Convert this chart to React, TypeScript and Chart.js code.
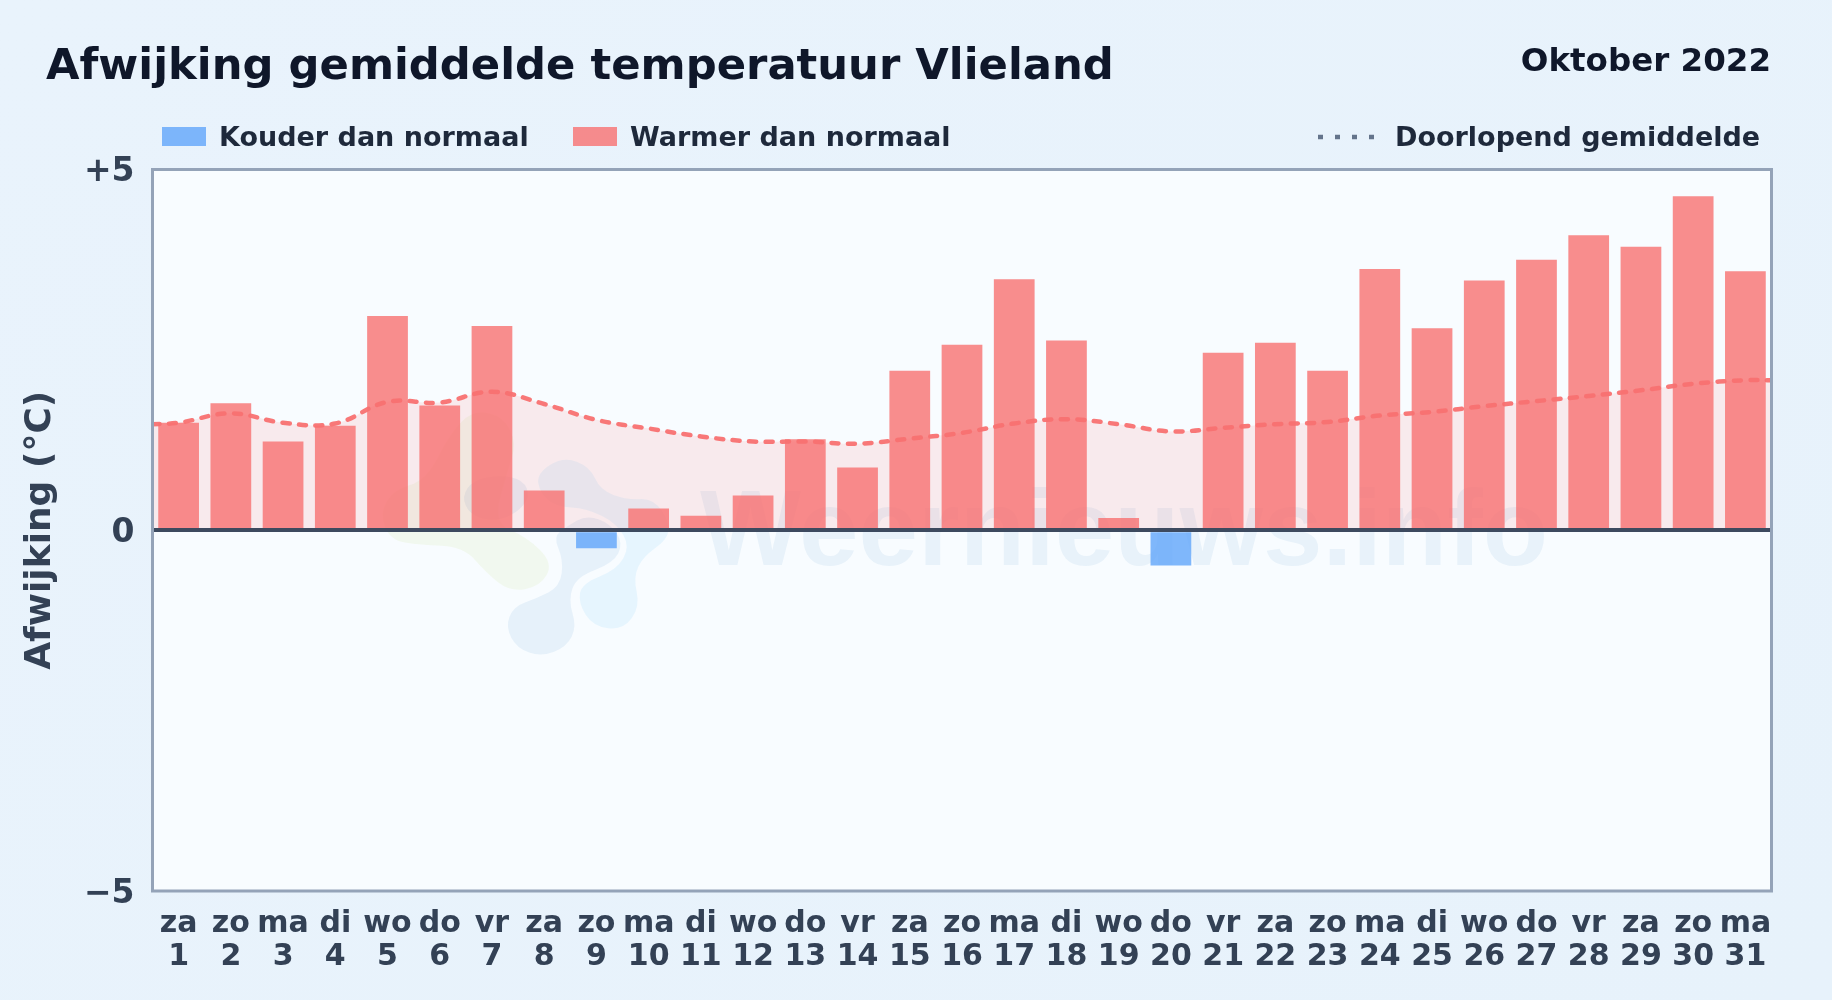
import React, { useEffect, useRef } from "react";
import { Chart, registerables } from "chart.js";

Chart.register(...registerables);

const dayNames = ["za","zo","ma","di","wo","do","vr","za","zo","ma","di","wo","do","vr","za","zo","ma","di","wo","do","vr","za","zo","ma","di","wo","do","vr","za","zo","ma"];
const dayNumbers = ["1","2","3","4","5","6","7","8","9","10","11","12","13","14","15","16","17","18","19","20","21","22","23","24","25","26","27","28","29","30","31"];
const deviations = [1.49,1.76,1.23,1.45,2.97,1.73,2.83,0.55,-0.25,0.30,0.20,0.48,1.26,0.87,2.21,2.57,3.48,2.63,0.17,-0.49,2.46,2.60,2.21,3.62,2.80,3.46,3.75,4.09,3.93,4.63,3.59];
const runningX = [0.5,1,2,3,4,5,6,7,8,9,10,11,12,13,14,15,16,17,18,19,20,21,22,23,24,25,26,27,28,29,30,31,31.5];
const runningMean = [1.47,1.49,1.62,1.49,1.48,1.78,1.77,1.92,1.75,1.53,1.41,1.30,1.23,1.23,1.20,1.27,1.35,1.48,1.54,1.47,1.37,1.42,1.47,1.50,1.59,1.64,1.72,1.79,1.86,1.94,2.03,2.08,2.08];
const yTicks = [-5, 0, 5];
const yTickLabels = ["\u22125", "0", "+5"];

const FONT = '"DejaVu Sans", sans-serif';
const RED = "rgba(248,113,113,0.8)";
const BLUE = "rgba(96,165,250,0.8)";

const blobs: { color: string; pts: number[][] }[] = [
  { color: "rgba(190,220,100,0.10)", pts: [[60,340],[100,270],[200,240],[270,100],[340,30],[430,50],[470,130],[440,220],[400,370],[500,410],[580,490],[540,560],[450,575],[380,520],[310,440],[180,435],[90,420]] },
  { color: "rgba(30,120,185,0.08)", pts: [[620,380],[680,345],[750,370],[790,430],[760,490],[650,530],[625,600],[650,680],[620,740],[545,770],[470,745],[437,680],[460,620],[530,595],[600,560],[610,480],[580,410]] },
  { color: "rgba(30,120,185,0.08)", pts: [[305,290],[340,240],[420,225],[490,240],[510,290],[470,340],[400,365],[330,345]] },
  { color: "rgba(50,180,240,0.09)", pts: [[530,220],[610,170],[690,200],[720,270],[800,300],[880,295],[930,370],[920,420],[850,470],[820,530],[840,620],[790,690],[700,680],[655,610],[665,550],[770,510],[810,440],[770,370],[680,325],[590,320],[540,280]] },
];

const plotDecor = {
  id: "plotDecor",
  beforeDatasetsDraw(chart: any) {
    const { ctx, chartArea: a } = chart;
    ctx.save();
    ctx.fillStyle = "#f8fcff";
    ctx.fillRect(a.left, a.top, a.right - a.left, a.bottom - a.top);
    for (const b of blobs) {
      const p = b.pts.map(([x, y]) => [360 + x / 3, 400 + y / 3]);
      ctx.beginPath();
      const n = p.length;
      ctx.moveTo((p[n - 1][0] + p[0][0]) / 2, (p[n - 1][1] + p[0][1]) / 2);
      for (let i = 0; i < n; i++) {
        const q = p[(i + 1) % n];
        ctx.quadraticCurveTo(p[i][0], p[i][1], (p[i][0] + q[0]) / 2, (p[i][1] + q[1]) / 2);
      }
      ctx.closePath();
      ctx.fillStyle = b.color;
      ctx.fill();
    }
    ctx.font = 'bold 107px "Liberation Sans", sans-serif';
    ctx.fillStyle = "rgba(30,120,185,0.07)";
    ctx.textAlign = "left";
    ctx.textBaseline = "alphabetic";
    ctx.fillText("Weernieuws.info", 700, 565);
    ctx.restore();
  },
  afterDraw(chart: any) {
    const { ctx, chartArea: a } = chart;
    ctx.save();
    ctx.strokeStyle = "#94a3b8";
    ctx.lineWidth = 3;
    ctx.strokeRect(a.left, a.top, a.right - a.left, a.bottom - a.top);
    ctx.restore();
  },
};

const textBase: React.CSSProperties = {
  position: "absolute",
  fontFamily: FONT,
  fontWeight: 700,
  whiteSpace: "nowrap",
  lineHeight: 1,
};

function Swatch({ left, color }: { left: number; color: string }) {
  return <div style={{ position: "absolute", left, top: 127, width: 44, height: 19, background: color }} />;
}

export default function App() {
  const ref = useRef<HTMLCanvasElement>(null);
  useEffect(() => {
    const chart = new Chart(ref.current as HTMLCanvasElement, {
      type: "bar",
      plugins: [plotDecor],
      data: {
        labels: dayNames.map((d, i) => [d, dayNumbers[i]]),
        datasets: [
          {
            type: "line",
            label: "Vulling",
            xAxisID: "x2",
            data: runningX.map((x, i) => ({ x, y: runningMean[i] })),
            borderWidth: 0,
            pointRadius: 0,
            tension: 0.4,
            fill: "origin",
            backgroundColor: "rgba(248,113,113,0.13)",
            order: 3,
          },
          {
            label: "Afwijking",
            data: deviations,
            backgroundColor: deviations.map((v) => (v < 0 ? BLUE : RED)),
            grouped: false,
            categoryPercentage: 1,
            barPercentage: 0.78,
            order: 2,
          },
          {
            type: "line",
            label: "Doorlopend gemiddelde",
            xAxisID: "x2",
            data: runningX.map((x, i) => ({ x, y: runningMean[i] })),
            borderColor: "rgba(248,113,113,0.95)",
            borderWidth: 4.5,
            borderDash: [7, 9.5],
            borderCapStyle: "round",
            pointRadius: 0,
            tension: 0.4,
            fill: false,
            order: 1,
          },
        ],
      } as any,
      options: {
        animation: false,
        responsive: false,
        layout: { padding: { left: 19, right: 60.5, top: 169.5, bottom: 0 } },
        plugins: { legend: { display: false }, title: { display: false }, tooltip: { enabled: false } },
        scales: {
          x: {
            offset: true,
            grid: { display: false },
            border: { display: false },
            afterFit: (s: any) => { s.height = 109; },
            ticks: {
              color: "#334155",
              font: { family: FONT, weight: "bold", size: 30, lineHeight: 1.1 },
              padding: 9,
              maxRotation: 0,
              minRotation: 0,
              autoSkip: false,
            },
          },
          x2: { type: "linear", display: false, min: 0.5, max: 31.5, offset: false, grid: { offset: false } },
          y: {
            min: -5,
            max: 5,
            afterFit: (s: any) => { s.width = 133.5; },
            afterBuildTicks: (s: any) => { s.ticks = yTicks.map((value) => ({ value })); },
            border: { display: false },
            grid: {
              z: 1,
              drawTicks: false,
              color: "#3d4a5f",
              lineWidth: (c: any) => (c.tick && c.tick.value === 0 ? 4 : 0),
            },
            ticks: {
              color: "#334155",
              padding: 18,
              labelOffset: 3,
              font: { family: FONT, weight: "bold", size: 33 },
              callback: (v: any) => yTickLabels[yTicks.indexOf(v)],
            },
            title: {
              display: true,
              text: "Afwijking (\u00b0C)",
              color: "#334155",
              font: { family: FONT, weight: "bold", size: 36 },
              padding: 0,
            },
          },
        },
      } as any,
    });
    return () => chart.destroy();
  }, []);
  return (
    <div style={{ position: "fixed", left: 0, top: 0, width: 1832, height: 1000, overflow: "hidden", background: "linear-gradient(135deg,#e9f3fc,#e7f2fb)" }}>
      <canvas ref={ref} width={1832} height={1000} style={{ position: "absolute", left: 0, top: 0, width: 1832, height: 1000 }} />
      <div style={{ ...textBase, left: 46, top: 43, fontSize: 43.3, color: "#0f172a" }}>Afwijking gemiddelde temperatuur Vlieland</div>
      <div style={{ ...textBase, right: 61, top: 44, fontSize: 32.5, color: "#0f172a" }}>Oktober 2022</div>
      <Swatch left={162} color={BLUE} />
      <div style={{ ...textBase, left: 219, top: 123, fontSize: 27, color: "#1e293b" }}>Kouder dan normaal</div>
      <Swatch left={573} color={RED} />
      <div style={{ ...textBase, left: 630, top: 123, fontSize: 27, color: "#1e293b" }}>Warmer dan normaal</div>
      <svg style={{ position: "absolute", left: 1316, top: 130, width: 60, height: 14 }}>
        <line x1="2" y1="7" x2="58" y2="7" stroke="#64748b" strokeWidth="4.5" strokeDasharray="5 12" />
      </svg>
      <div style={{ ...textBase, left: 1395, top: 123, fontSize: 27, color: "#1e293b" }}>Doorlopend gemiddelde</div>
    </div>
  );
}
